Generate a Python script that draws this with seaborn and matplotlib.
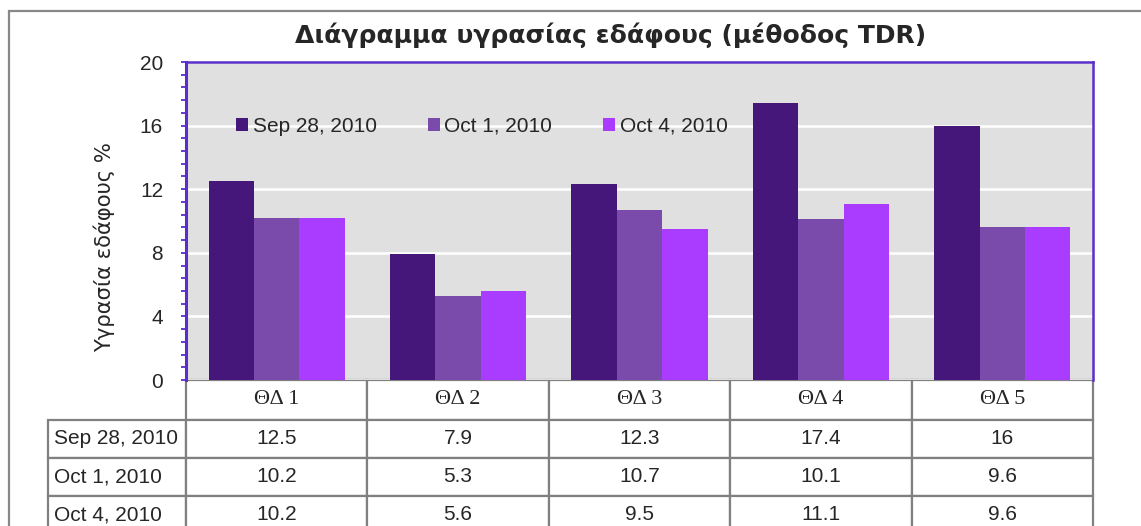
import matplotlib
matplotlib.use("Agg")
import matplotlib.pyplot as plt
from matplotlib.patches import Rectangle
from matplotlib.ticker import MultipleLocator
from matplotlib.table import Table
import seaborn as sns
import pandas as pd

# Soil moisture readings (TDR method) per measuring station
stations = ["ΘΔ 1", "ΘΔ 2", "ΘΔ 3", "ΘΔ 4", "ΘΔ 5"]
dates = ["Sep 28, 2010", "Oct 1, 2010", "Oct 4, 2010"]
sep28 = [12.5, 7.9, 12.3, 17.4, 16]
oct1 = [10.2, 5.3, 10.7, 10.1, 9.6]
oct4 = [10.2, 5.6, 9.5, 11.1, 9.6]
series = [sep28, oct1, oct4]
colors = ["#45177A", "#7B4BAB", "#A93CFE"]

title = "Διάγραμμα υγρασίας εδάφους (μέθοδος TDR)"
ylabel = "Υγρασία εδάφους %"

rows = []
for d, vals in zip(dates, series):
    for s, v in zip(stations, vals):
        rows.append({"station": s, "date": d, "value": v})
df = pd.DataFrame(rows)

sns.set_theme(style="white")
plt.rcParams["font.family"] = ["Liberation Sans", "DejaVu Sans"]

W, H = 1141, 526
fig = plt.figure(figsize=(W / 100, H / 100), dpi=100)
fig.patch.set_facecolor("white")

# outer chart frame
fig.patches.append(Rectangle((9 / W, -0.2), 1.2, 1.2 - 11 / H,
                             transform=fig.transFigure, fill=False,
                             edgecolor="#888888", linewidth=1.6))

x0, x1, y_top, y_bot = 186, 1093, 62, 380
ax = fig.add_axes([x0 / W, 1 - y_bot / H, (x1 - x0) / W, (y_bot - y_top) / H])
ax.set_facecolor("#E0E0E0")

sns.barplot(data=df, x="station", y="value", hue="date", hue_order=dates,
            order=stations, palette=colors, width=0.75, saturation=1,
            linewidth=0, ax=ax, errorbar=None)

ax.set_ylim(0, 20)
ax.set_xlim(-0.5, len(stations) - 0.5)
ax.yaxis.set_major_locator(MultipleLocator(4))
ax.yaxis.set_minor_locator(MultipleLocator(0.8))
ax.grid(axis="y", which="major", color="white", linewidth=1.8)
ax.set_axisbelow(True)
ax.set_xticks([])
ax.set_xlabel("")
ax.set_ylabel("")

purple = "#5A2EC8"
for side in ["left", "top", "right"]:
    ax.spines[side].set_color(purple)
ax.spines["left"].set_linewidth(2.2)
ax.spines["top"].set_linewidth(1.8)
ax.spines["right"].set_linewidth(1.8)
ax.spines["bottom"].set_visible(False)

ax.tick_params(axis="y", which="both", direction="out", color=purple,
               left=True, width=1.3, labelsize=15, pad=13)
ax.tick_params(axis="y", which="major", length=3.5)
ax.tick_params(axis="y", which="minor", length=3.5)

# legend across the top of the plot area
handles, labels = ax.get_legend_handles_labels()
ax.legend(handles, labels, ncol=3, loc="center left",
          bbox_to_anchor=(50 / (x1 - x0), (y_bot - 126) / (y_bot - y_top)),
          frameon=False, fontsize=15, handlelength=0.58, handleheight=0.58,
          handletextpad=0.22, columnspacing=2.45, borderpad=0, borderaxespad=0)

# titles
fig.text(611 / W, 1 - 35 / H, title, ha="center", va="center",
         fontsize=18, fontweight="bold", family=["DejaVu Sans"])
fig.text(104 / W, 1 - 247 / H, ylabel, ha="center", va="center",
         rotation=90, fontsize=15.2, family=["DejaVu Sans"])

# data table beneath the chart
lab_w, col_w = 186 - 48, (x1 - x0) / len(stations)
head_h, row_h = 40, 38
tot_w = lab_w + col_w * len(stations)
tot_h = head_h + row_h * len(dates)
tab = Table(ax, bbox=[(48 - x0) / (x1 - x0), -tot_h / (y_bot - y_top),
                      tot_w / (x1 - x0), tot_h / (y_bot - y_top)])
edge = "#808080"
for j, s in enumerate(stations):
    c = tab.add_cell(0, j + 1, width=col_w, height=head_h, text=s, loc="center",
                     edgecolor=edge, facecolor="white")
for i, (d, vals) in enumerate(zip(dates, series)):
    c = tab.add_cell(i + 1, 0, width=lab_w, height=row_h, text=d, loc="left",
                     edgecolor=edge, facecolor="white")
    c.PAD = 0.04
    for j, v in enumerate(vals):
        tab.add_cell(i + 1, j + 1, width=col_w, height=row_h, text=f"{v:g}",
                     loc="center", edgecolor=edge, facecolor="white")
tab.auto_set_font_size(False)
tab.set_fontsize(15)
for j in range(len(stations)):
    t = tab[0, j + 1].get_text()
    t.set_fontfamily(["Liberation Serif"])
    t.set_fontsize(16)
for cell in tab.get_celld().values():
    cell.set_linewidth(1.6)
ax.add_table(tab)

fig.savefig("out.png", dpi=100)
